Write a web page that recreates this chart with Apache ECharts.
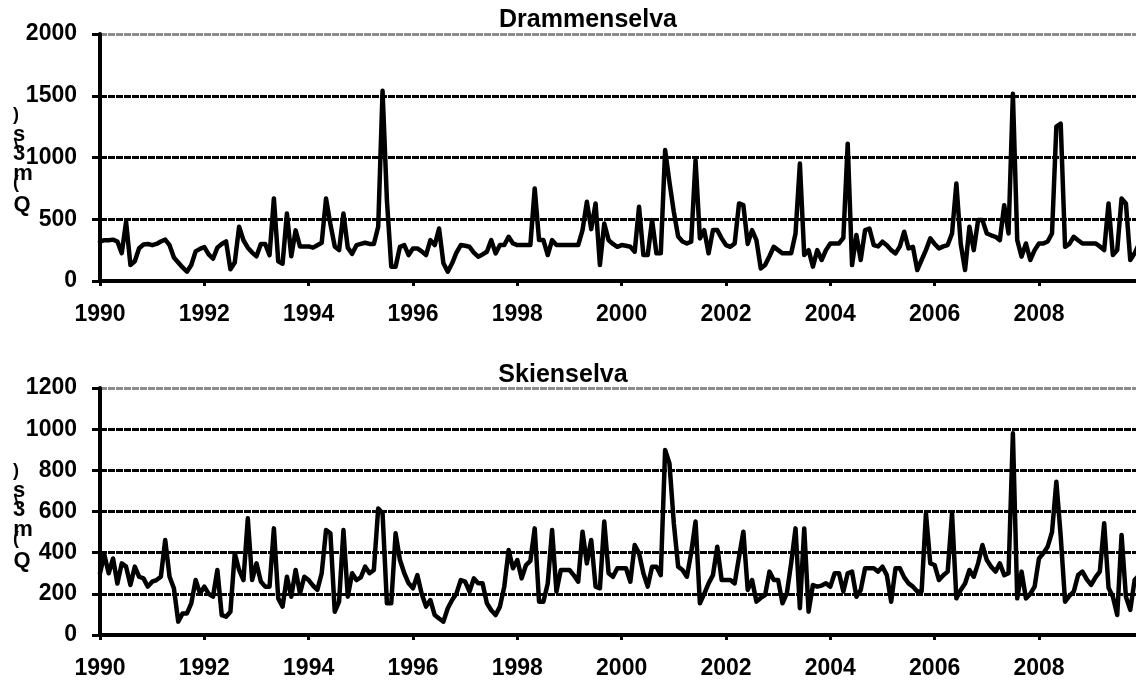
<!DOCTYPE html>
<html>
<head>
<meta charset="utf-8">
<title>Drammenselva / Skienselva</title>
<script src="https://cdn.jsdelivr.net/npm/echarts@6/dist/echarts.min.js"></script>
<style>
  html, body { margin: 0; padding: 0; background: #fff; }
  #chart { width: 1136px; height: 684px; }
</style>
</head>
<body>
<div id="chart"></div>
<script>
// Monthly mean discharge, January 1990 onwards (m3/s)
const START_YEAR = 1990;

const drammenselva = [
  318, 330, 330, 335, 320, 225, 480, 130, 160, 265, 295, 300,
  290, 300, 320, 335, 290, 190, 150, 110, 75, 130, 240, 260,
  275, 215, 180, 270, 300, 320, 95, 150, 440, 330, 270, 230,
  200, 300, 300, 210, 668, 160, 140, 547, 200, 410, 280, 280,
  280, 270, 290, 310, 668, 460, 280, 250, 547, 270, 220, 290,
  300, 310, 300, 300, 440, 1540, 655, 116, 116, 277, 291, 210,
  264, 264, 240, 210, 331, 291, 425, 143, 75, 143, 230, 291,
  285, 277, 230, 197, 215, 237, 331, 224, 291, 291, 358, 304,
  291, 291, 291, 291, 749, 331, 331, 210, 331, 291, 291, 291,
  291, 291, 291, 412, 641, 420, 628, 129, 466, 331, 300, 277,
  291, 285, 277, 237, 601, 210, 210, 493, 224, 224, 1060, 800,
  560, 360, 320, 304, 318, 978, 345, 412, 224, 412, 412, 345,
  291, 277, 304, 628, 614, 300, 412, 331, 102, 129, 200, 277,
  250, 224, 224, 224, 385, 951, 210, 250, 116, 250, 170, 250,
  304, 304, 304, 350, 1112, 129, 372, 170, 412, 425, 291, 280,
  318, 290, 250, 224, 280, 399, 264, 277, 89, 170, 250, 345,
  300, 264, 280, 291, 385, 789, 300, 89, 439, 250, 493, 493,
  385, 370, 358, 331, 614, 385, 1516, 331, 197, 304, 170, 250,
  304, 304, 320, 385, 1250, 1274, 277, 300, 358, 330, 304, 304,
  304, 304, 280, 250, 628, 210, 250, 668, 628, 170, 224, 300
];

const skienselva = [
  300, 390, 300, 372, 250, 348, 332, 243, 332, 283, 275, 235,
  259, 267, 283, 462, 283, 227, 65, 105, 105, 154, 267, 202,
  235, 200, 186, 316, 97, 89, 113, 397, 316, 267, 567, 267,
  348, 260, 235, 235, 518, 178, 138, 283, 186, 316, 202, 283,
  267, 240, 219, 300, 510, 494, 113, 162, 510, 186, 300, 267,
  280, 332, 300, 316, 615, 591, 154, 154, 494, 364, 300, 251,
  227, 291, 200, 138, 170, 97, 80, 65, 130, 170, 202, 267,
  259, 211, 275, 251, 251, 154, 120, 97, 138, 235, 413, 324,
  364, 275, 340, 360, 518, 162, 162, 250, 510, 211, 316, 316,
  316, 290, 259, 502, 348, 462, 235, 227, 551, 300, 283, 324,
  324, 324, 259, 437, 397, 300, 235, 332, 332, 291, 899, 834,
  543, 332, 316, 283, 400, 551, 154, 200, 251, 291, 429, 267,
  267, 267, 251, 380, 502, 219, 267, 162, 180, 194, 308, 267,
  267, 154, 202, 350, 518, 130, 518, 113, 243, 235, 240, 251,
  235, 300, 300, 211, 300, 308, 186, 219, 324, 324, 324, 308,
  332, 291, 162, 324, 324, 280, 251, 235, 211, 211, 591, 348,
  340, 267, 290, 308, 591, 178, 219, 250, 316, 283, 348, 437,
  364, 332, 308, 348, 291, 300, 980, 178, 308, 178, 200, 235,
  372, 397, 429, 500, 745, 480, 162, 190, 211, 291, 308, 270,
  243, 280, 308, 543, 230, 186, 97, 486, 186, 122, 267, 290
];

// Place each monthly value on a decimal-year scale
function monthlySeries(values) {
  return values.map((v, i) => [START_YEAR + i / 12, v]);
}

const FONT = "'Liberation Sans', Arial, Helvetica, sans-serif";
const TICK_FONT = { fontFamily: FONT, fontWeight: 'bold', fontSize: 23, color: '#000' };

function xAxisFor(gridIndex) {
  return {
    type: 'value',
    gridIndex,
    min: 1990,
    max: 2009.86,
    interval: 2,
    axisLine: { show: true, onZero: false, lineStyle: { color: '#000', width: 4 } },
    axisTick: { show: true, length: 5, lineStyle: { color: '#000', width: 3 } },
    axisLabel: Object.assign({ margin: 22, showMaxLabel: false, formatter: v => String(v) }, TICK_FONT),
    splitLine: { show: false }
  };
}

function yAxisFor(gridIndex, max, interval) {
  const n = max / interval;
  const colors = [];
  for (let k = 0; k < n; k++) colors.push('#000');
  colors.push('#8c8c8c');
  return {
    type: 'value',
    gridIndex,
    min: 0,
    max,
    interval,
    axisLine: { show: true, lineStyle: { color: '#000', width: 4 } },
    axisTick: { show: true, length: 8, lineStyle: { color: '#000', width: 3 } },
    axisLabel: Object.assign({ margin: 23, formatter: v => String(v) }, TICK_FONT),
    splitLine: { show: true, lineStyle: { color: colors, width: 3, type: [7, 1] } }
  };
}

// Axis title "Q (m3/s)" drawn as a vertical stack of glyphs
function axisTitle(dy) {
  const glyph = (text, x, y, size, rotation) => ({
    type: 'text',
    x, y: y + dy,
    rotation: rotation || 0,
    silent: true,
    style: {
      text,
      fontFamily: FONT,
      fontWeight: 'bold',
      fontSize: size,
      fill: '#000',
      align: 'center',
      verticalAlign: 'middle'
    }
  });
  return [
    glyph(')', 16, 115, 18),
    glyph('s', 19, 135, 22),
    glyph('/', 17, 146, 18, 0.45),
    glyph('3', 19, 154, 22),
    glyph('m', 23, 174, 22),
    glyph('(', 16, 183, 18),
    glyph('Q', 22, 205, 22)
  ];
}

function panelTitle(text, x, y) {
  return {
    type: 'text',
    x, y,
    silent: true,
    style: {
      text,
      fontFamily: FONT,
      fontWeight: 'bold',
      fontSize: 25,
      fill: '#000',
      align: 'center',
      verticalAlign: 'middle'
    }
  };
}

const lineStyle = { color: '#000', width: 4.5, join: 'round', cap: 'round' };

const option = {
  backgroundColor: '#fff',
  animation: false,
  grid: [
    { left: 100, right: 0, top: 34, height: 247, containLabel: false },
    { left: 100, right: 0, top: 388, height: 247, containLabel: false }
  ],
  xAxis: [xAxisFor(0), xAxisFor(1)],
  yAxis: [yAxisFor(0, 2000, 500), yAxisFor(1, 1200, 200)],
  series: [
    {
      name: 'Drammenselva',
      type: 'line',
      xAxisIndex: 0,
      yAxisIndex: 0,
      data: monthlySeries(drammenselva),
      showSymbol: false,
      symbol: 'none',
      lineStyle,
      z: 5
    },
    {
      name: 'Skienselva',
      type: 'line',
      xAxisIndex: 1,
      yAxisIndex: 1,
      data: monthlySeries(skienselva),
      showSymbol: false,
      symbol: 'none',
      lineStyle,
      z: 5
    }
  ],
  graphic: [
    panelTitle('Drammenselva', 588, 20),
    panelTitle('Skienselva', 563, 375)
  ].concat(axisTitle(0), axisTitle(356))
};

const chart = echarts.init(document.getElementById('chart'), null, { renderer: 'canvas' });
chart.setOption(option);
</script>
</body>
</html>
